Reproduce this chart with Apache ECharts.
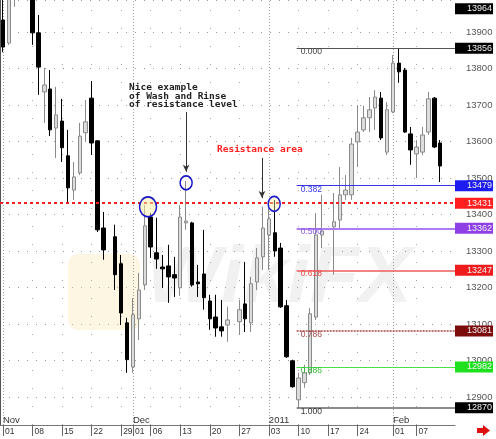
<!DOCTYPE html>
<html><head><meta charset="utf-8">
<script src="https://cdn.jsdelivr.net/npm/echarts@6/dist/echarts.min.js"></script>
<style>html,body{margin:0;padding:0;background:#fff}#c{width:496px;height:439px}</style>
</head><body><div id="c"></div>
<script>
// ---- data ----
const dates = [
'2010-11-01','2010-11-02','2010-11-03','2010-11-04','2010-11-05',
'2010-11-08','2010-11-09','2010-11-10','2010-11-11','2010-11-12',
'2010-11-15','2010-11-16','2010-11-17','2010-11-18','2010-11-19',
'2010-11-22','2010-11-23','2010-11-24','2010-11-25','2010-11-26',
'2010-11-29','2010-11-30','2010-12-01','2010-12-02','2010-12-03',
'2010-12-06','2010-12-07','2010-12-08','2010-12-09','2010-12-10',
'2010-12-13','2010-12-14','2010-12-15','2010-12-16','2010-12-17',
'2010-12-20','2010-12-21','2010-12-22','2010-12-23','2010-12-24',
'2010-12-27','2010-12-28','2010-12-29','2010-12-30','2010-12-31',
'2011-01-03','2011-01-04','2011-01-05','2011-01-06','2011-01-07',
'2011-01-10','2011-01-11','2011-01-12','2011-01-13','2011-01-14',
'2011-01-17','2011-01-18','2011-01-19','2011-01-20','2011-01-21',
'2011-01-24','2011-01-25','2011-01-26','2011-01-27','2011-01-28',
'2011-01-31','2011-02-01','2011-02-02','2011-02-03','2011-02-04',
'2011-02-07','2011-02-08','2011-02-09','2011-02-10','2011-02-11',
'2011-02-14','2011-02-15'];
const opens = [
13933,13870,14030,14130,14200, 14020,13898,13736,13744,13637,
13656,13561,13467,13514,13624, 13719,13602,13363,null,13339,
13265,13103,12982,13114,13207, 13393,13295,13256,13259,13235,
13199,13377,13377,13215,13237, 13163,13119,13092,13097,null,
13106,13155,13103,13215,13284, 13344,13350,13308,13150,12999,
12892,12939,12966,13119,13344, null,13366,13385,13454,13454,
13599,13632,13665,13692,13719, 13571,13681,13815,13796,13621,
13566,13571,13626,13719,13596, null,null];
const closes = [
13859,14040,14130,14200,14020, 13898,13804,13755,13632,13673,
13583,13473,13503,13615,13654, 13596,13358,13303,null,13235,
13130,13002,13125,13193,13369, 13311,13278,13251,13229,13226,
13393,13382,13207,13210,13172, 13114,13089,13081,13111,null,
13139,13114,13210,13281,13363, 13388,13300,13147,13010,12928,
12952,12966,13128,13344,13355, null,13380,13454,13467,13593,
13626,13665,13687,13722,13610, 13687,13815,13791,13626,13577,
13585,13618,13717,13585,13533, null,null];
const lows = [
13845,13865,13969,14100,14000, 13865,13728,13651,13615,13555,
13544,13434,13440,13508,13599, 13563,13352,13276,null,13193,
13097,12966,12966,13056,13193, 13281,13251,13199,13158,13174,
13177,13358,13202,13174,13139, 13084,13065,13065,13051,null,
13070,13078,13078,13193,13248, 13248,13284,13144,13007,12925,
12870,12925,12960,13111,13308, null,13235,13363,13440,13440,
13530,13626,13626,13632,13604, 13563,13678,13761,13624,13536,
13500,13563,13618,13582,13489, null,null];
const highs = [
14010,14060,14170,14280,14230, 14040,13947,13802,13796,13750,
13717,13632,13544,13651,13714, 13766,13604,13407,null,13372,
13289,13117,13171,13240,13426, 13404,13391,13289,13317,13284,
13426,13492,13380,13262,13358, 13180,13180,13166,13147,null,
13166,13270,13229,13308,13421, 13421,13440,13322,13166,13002,
12966,12988,13144,13404,13454, null,13459,13530,13508,13610,
13700,13698,13722,13741,13736, 13708,13837,13856,13802,13640,
13604,13640,13736,13722,13604, null,null];

const tickDates = ['2010-11-01','2010-11-08','2010-11-15','2010-11-22','2010-11-29','2010-12-01',
  '2010-12-06','2010-12-13','2010-12-20','2010-12-27','2011-01-03','2011-01-10','2011-01-17',
  '2011-01-24','2011-02-01','2011-02-07'];
const monthDates = ['2010-11-01','2010-12-01','2011-01-03','2011-02-01'];
const monthNames = ['Nov','Dec','2011','Feb'];

const fibStartDate = '2011-01-10';
const fibRatios = ['0.000','0.382','0.500','0.618','0.786','0.886','1.000'];
const fibPrices = [13856,13479,13362,13247,13081,12982,12870];
const resistancePrice = 13431;
const topPrice = 13964;

const noteText = 'Nice example\nof Wash and Rinse\nof resistance level';
const resistanceText = 'Resistance area';

// ---- styles ----
const FONT = 'Liberation Sans, Arial, sans-serif';
const MONO = 'DejaVu Sans Mono, Liberation Mono, monospace';
const fibStyles = [
 {line:'#555555', text:'#444444', box:'#000000', width:1, type:'solid'},
 {line:'#3535e6', text:'#3535e6', box:'#1c1cf0', width:1, type:'solid'},
 {line:'#b07cf2', text:'#8a5ae8', box:'#8f3fe6', width:2, type:'solid'},
 {line:'#ef5b5b', text:'#e84848', box:'#ee1c1c', width:1.5, type:'solid'},
 {line:'#a54848', text:'#a54848', box:'#7c0c0c', width:1.5, type:[2,1]},
 {line:'#4ae04a', text:'#33bb33', box:'#1fe01f', width:1, type:'solid'},
 {line:'#666666', text:'#333333', box:'#000000', width:1.5, type:'solid'}
];

const X = d => dates.indexOf(d) + 0.5;
const isTick = (i, v) => tickDates.indexOf(v) >= 0;
const candleData = dates.map((d, i) => opens[i] == null ? '-' : [opens[i], closes[i], lows[i], highs[i]]);

const boxLabel = (bg, txt) => ({show:true, position:'end', distance:0, formatter:txt,
  backgroundColor:bg, color:'#f2f2f2', fontSize:9, fontFamily:FONT, lineHeight:10, padding:[1,1,0,12]});

const fibSegments = fibPrices.map((p, k) => [
  {coord:[X(fibStartDate) - 0.3, p],
   lineStyle:{color:fibStyles[k].line, width:fibStyles[k].width, type:fibStyles[k].type},
   label:{show:true, position:'insideStartBottom', formatter:fibRatios[k], color:fibStyles[k].text,
          fontSize:8.5, fontFamily:FONT, distance:[4,-1]}},
  {coord:[dates.length, p]}
]);
const HIDDEN_LINE = {color:'rgba(0,0,0,0)', width:1};
const fibBoxes = fibPrices.map((p, k) => ({yAxis:p, lineStyle:HIDDEN_LINE, label:boxLabel(fibStyles[k].box, String(p))}));

const ELLIPSE = 'path://M0 10A10 10 0 1 1 20 10A10 10 0 1 1 0 10Z';

const option = {
  animation:false,
  backgroundColor:'#ffffff',
  grid:{left:0, right:41, top:0, bottom:14, outerBoundsMode:'none', containLabel:false},
  xAxis:[
    {type:'category', data:dates, boundaryGap:true,
     axisLine:{show:true, lineStyle:{color:'#777', width:1}},
     axisTick:{show:true, alignWithLabel:true, interval:isTick, length:11, lineStyle:{color:'#666'}},
     axisLabel:{show:true, interval:isTick, formatter:v => v.slice(8), align:'left', padding:[0,0,0,2],
                margin:2, fontSize:8.5, color:'#333', fontFamily:FONT, verticalAlign:'top'},
     splitLine:{show:false}},
    {type:'value', min:0, max:dates.length, show:false}
  ],
  yAxis:[{type:'value', position:'right', min:12823, max:13988, splitNumber:10,
    axisLine:{show:true, lineStyle:{color:'#555'}},
    axisTick:{show:true, inside:true, length:4, lineStyle:{color:'#555'}},
    minorTick:{show:true, splitNumber:10, length:2, lineStyle:{color:'#888'}},
    axisLabel:{show:true, margin:11, fontSize:9.5, color:'#555', fontFamily:FONT, showMinLabel:false, showMaxLabel:false,
               formatter:v => String(Math.round(v))},
    splitLine:{show:true, lineStyle:{color:'#9a9a9a', type:[1,8], width:1}}
  }],
  graphic:[
    {type:'rect', z:1, silent:true, shape:{x:68, y:254, width:72, height:76, r:10},
     style:{fill:'rgba(246,228,176,0.35)'}},
    {type:'text', z:1, silent:true, style:{text:'WikiFX', x:146, y:280, font:'italic bold 80px Liberation Sans',
     fill:'rgba(170,170,170,0.17)', verticalAlign:'middle'}},
    {type:'polygon', z:10, silent:true, shape:{points:[[477,428],[483,428],[483,425],[490,430.5],[483,436],[483,433],[477,433]]},
     style:{fill:'#e01010'}}
  ],
  series:[
    { // grid helper lines (below candles)
      type:'scatter', xAxisIndex:1, yAxisIndex:0, data:[[0,12900]], symbolSize:0, silent:true,
      markLine:{silent:true, z:1, symbol:['none','none'], label:{show:false},
        data:[
          ...tickDates.map(d => ({xAxis:X(d), lineStyle:{color:'#a8a8a8', type:[1,17], width:1}})),
          ...monthDates.map(d => ({xAxis:X(d), lineStyle:{color:'#a0a0a0', type:[1,2], width:1}}))
        ]},
      markPoint:{silent:true, z:3, symbol:'circle', symbolSize:0,
        data:monthDates.map((d, k) => ({coord:[X(d), 12835],
          label:{show:true, formatter:monthNames[k], position:'right', distance:0, fontSize:9.5, color:'#333', fontFamily:FONT}}))}
    },
    {
      type:'candlestick', name:'EURUSD', xAxisIndex:0, yAxisIndex:0, data:candleData, barWidth:4, clip:true, z:2,
      itemStyle:{color:'#dcdcdc', borderColor:'#8a8a8a', color0:'#000000', borderColor0:'#000000', borderWidth:1}
    },
    { // levels and annotations
      type:'scatter', xAxisIndex:1, yAxisIndex:0, data:[[0,12900]], symbolSize:0, silent:true,
      markLine:{silent:true, z:5, symbol:['none','none'],
        data:[
          ...fibSegments,
          ...fibBoxes,
          {yAxis:resistancePrice, lineStyle:{color:'#ee2222', width:2, type:[3,3]}, label:boxLabel('#ff1f1f', String(resistancePrice))},
          {yAxis:topPrice, lineStyle:HIDDEN_LINE, label:boxLabel('#000000', String(topPrice))},
          [{coord:[31.5, 13681], symbol:'none', lineStyle:{color:'#333', width:1, type:'solid'}, label:{show:false}},
           {coord:[31.5, 13517], symbol:'arrow', symbolSize:[5,7]}],
          [{coord:[44.34, 13555], symbol:'none', lineStyle:{color:'#333', width:1, type:'solid'}, label:{show:false}},
           {coord:[44.34, 13445], symbol:'arrow', symbolSize:[5,7]}]
        ]},
      markPoint:{silent:true, z:6,
        data:[
          {coord:[25.05, 13421], symbol:ELLIPSE, symbolSize:[17,20], itemStyle:{color:'rgba(255,240,160,0.5)', borderColor:'#1818c8', borderWidth:1.6}, label:{show:false}},
          {coord:[31.5, 13487], symbol:ELLIPSE, symbolSize:[12,14], itemStyle:{color:'rgba(255,255,255,0)', borderColor:'#1818c8', borderWidth:1.6}, label:{show:false}},
          {coord:[46.4, 13429], symbol:ELLIPSE, symbolSize:[12,15], itemStyle:{color:'rgba(255,240,160,0.4)', borderColor:'#1818c8', borderWidth:1.6}, label:{show:false}},
          {coord:[21.83, 13724], symbol:'circle', symbolSize:0,
           label:{show:true, formatter:noteText, position:'right', distance:0, fontFamily:MONO, fontWeight:'bold', fontSize:9.5, lineHeight:8.5, color:'#222'}},
          {coord:[36.72, 13577], symbol:'circle', symbolSize:0,
           label:{show:true, formatter:resistanceText, position:'right', distance:0, fontFamily:MONO, fontWeight:'bold', fontSize:9.5, color:'#ff2020'}}
        ]}
    }
  ]
};
const chart = echarts.init(document.getElementById('c'), null, {renderer:'canvas', width:496, height:439});
chart.setOption(option);
</script>
</body></html>
